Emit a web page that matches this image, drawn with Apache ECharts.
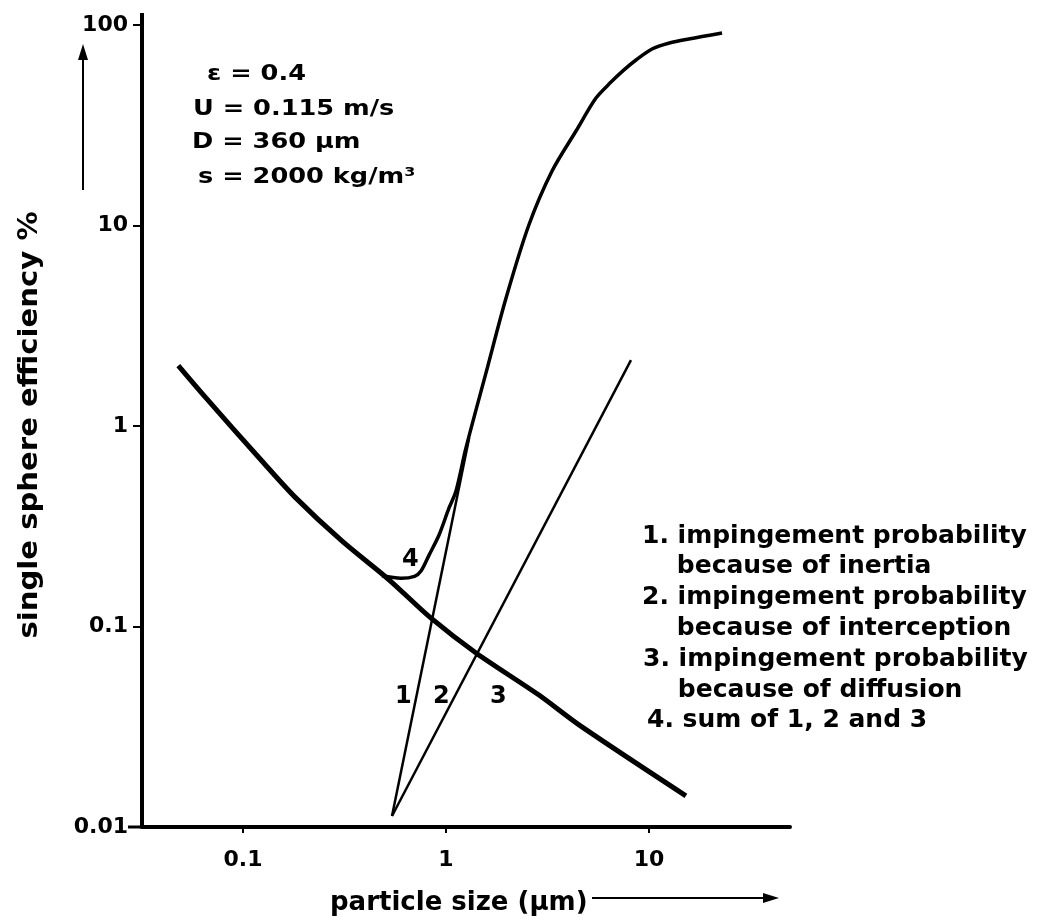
<!DOCTYPE html>
<html>
<head>
<meta charset="utf-8">
<script src="https://cdn.jsdelivr.net/npm/echarts@6/dist/echarts.min.js"></script>
<style>
  html, body { margin: 0; padding: 0; background: #fff; }
  #chart { width: 1038px; height: 921px; }
</style>
</head>
<body>
<div id="chart"></div>
<script>
// particle size (um) / efficiency (%)
const diffX = [0.048, 0.0657, 0.124, 0.182, 0.307, 0.524, 0.844, 1.406, 2.87, 4.52, 15.2];
const diffY = [2.0, 1.38, 0.669, 0.438, 0.267, 0.171, 0.110, 0.0738, 0.0455, 0.0323, 0.0143];

const inertiaX = [0.542, 1.30];
const inertiaY = [0.01135, 0.871];

const interceptX = [0.542, 8.15];
const interceptY = [0.01135, 2.13];

const sumX = [0.484, 0.60, 0.70, 0.753, 0.825, 0.924, 1.035, 1.12, 1.254, 1.574, 1.976, 2.56, 3.33, 4.37, 5.48, 6.50, 7.53, 8.63, 10.35, 12.6, 15.7, 22.9];
const sumY = [0.179, 0.174, 0.178, 0.189, 0.227, 0.286, 0.390, 0.474, 0.777, 1.84, 4.35, 10.06, 18.7, 29.6, 43.2, 51.9, 59.7, 66.9, 75.9, 81.3, 85.2, 91.3];

const xTicks = [0.1, 1, 10];
const xMin = 0.0318, xMax = 49.5;

const paramLines = ["ε = 0.4", "U = 0.115 m/s", "D = 360 µm", "s = 2000 kg/m³"];
const legendLines = [
  "1. impingement probability",
  "    because of inertia",
  "2. impingement probability",
  "    because of interception",
  "3. impingement probability",
  "    because of diffusion",
  "4. sum of 1, 2 and 3"
];

const lg = (v) => Math.log10(v);
const pts = (xs, ys) => xs.map((x, i) => [lg(x), ys[i]]);

const FONT = '"DejaVu Sans", "Liberation Sans", sans-serif';

const chart = echarts.init(document.getElementById("chart"));

// the printed typeface is a wide grotesque, so some texts get stretched a little
const txt = (text, x, y, size, extra, align) => Object.assign({
  type: "text",
  x: x,
  y: y,
  style: {
    text: text,
    font: "bold " + size + "px " + FONT,
    fill: "#000",
    textAlign: align || "left",
    textVerticalAlign: "middle",
    align: align || "left",
    verticalAlign: "middle"
  }
}, extra || {});

const graphics = [];
// parameters, top left
const paramX = [207, 193, 192, 198];
const paramY = [75, 110, 143, 178];
paramLines.forEach((t, i) => {
  graphics.push(txt(t, paramX[i], paramY[i], 21, { scaleX: 1.22 }));
});
// legend on the right
const legendX = [642, 642, 642, 642, 643, 643, 647];
legendLines.forEach((t, i) => {
  graphics.push(txt(t, legendX[i], 536 + i * 30.8, 25));
});
// curve numbers
graphics.push(txt("4", 402, 560, 24));
graphics.push(txt("1", 395, 697, 24));
graphics.push(txt("2", 433, 697, 24));
graphics.push(txt("3", 490, 697, 24));
// axis titles
graphics.push(txt("particle size (µm)", 330, 903, 26));
graphics.push(txt("single sphere efficiency %", 30, 425, 26,
  { rotation: Math.PI / 2, scaleX: 1.12 }, "center"));
// arrows next to the axis titles
graphics.push({ type: "line", shape: { x1: 83, y1: 190, x2: 83, y2: 55 }, style: { stroke: "#000", lineWidth: 2 } });
graphics.push({ type: "polygon", shape: { points: [[83, 44], [78, 60], [88, 60]] }, style: { fill: "#000" } });
graphics.push({ type: "line", shape: { x1: 592, y1: 898, x2: 768, y2: 898 }, style: { stroke: "#000", lineWidth: 2 } });
graphics.push({ type: "polygon", shape: { points: [[779, 898], [763, 893], [763, 903]] }, style: { fill: "#000" } });
// axis stubs
graphics.push({ type: "line", shape: { x1: 142, y1: 13, x2: 142, y2: 27 }, style: { stroke: "#000", lineWidth: 4 } });
graphics.push({ type: "line", shape: { x1: 128, y1: 827, x2: 142, y2: 827 }, style: { stroke: "#000", lineWidth: 3 } });

const option = {
  backgroundColor: "#fff",
  animation: false,
  grid: { left: 142, right: 248, top: 25, bottom: 94, containLabel: false, outerBoundsMode: "none" },
  xAxis: {
    type: "value",
    min: lg(xMin),
    max: lg(xMax),
    splitLine: { show: false },
    axisLine: { onZero: false, lineStyle: { color: "#000", width: 4 } },
    axisTick: { length: 6, lineStyle: { color: "#000", width: 2 }, customValues: xTicks.map(lg) },
    axisLabel: {
      customValues: xTicks.map(lg),
      formatter: (v) => String(Math.round(Math.pow(10, v) * 1000) / 1000),
      color: "#000",
      fontFamily: FONT,
      fontWeight: "bold",
      fontSize: 22,
      margin: 22
    }
  },
  yAxis: {
    type: "log",
    logBase: 10,
    min: 0.01,
    max: 100,
    splitLine: { show: false },
    axisLine: { onZero: false, lineStyle: { color: "#000", width: 4 } },
    axisTick: { length: 9, lineStyle: { color: "#000", width: 2 } },
    axisLabel: {
      color: "#000",
      fontFamily: FONT,
      fontWeight: "bold",
      fontSize: 22,
      margin: 14
    }
  },
  series: [
    {
      name: "diffusion",
      type: "line",
      data: pts(diffX, diffY),
      showSymbol: false,
      smooth: 0.3,
      lineStyle: { color: "#000", width: 5 }
    },
    {
      name: "inertia",
      type: "line",
      data: pts(inertiaX, inertiaY),
      showSymbol: false,
      lineStyle: { color: "#000", width: 2.5 }
    },
    {
      name: "interception",
      type: "line",
      data: pts(interceptX, interceptY),
      showSymbol: false,
      lineStyle: { color: "#000", width: 2.5 }
    },
    {
      name: "sum",
      type: "line",
      data: pts(sumX, sumY),
      showSymbol: false,
      smooth: 0.3,
      lineStyle: { color: "#000", width: 3.5 }
    }
  ],
  graphic: graphics
};

chart.setOption(option);
</script>
</body>
</html>
